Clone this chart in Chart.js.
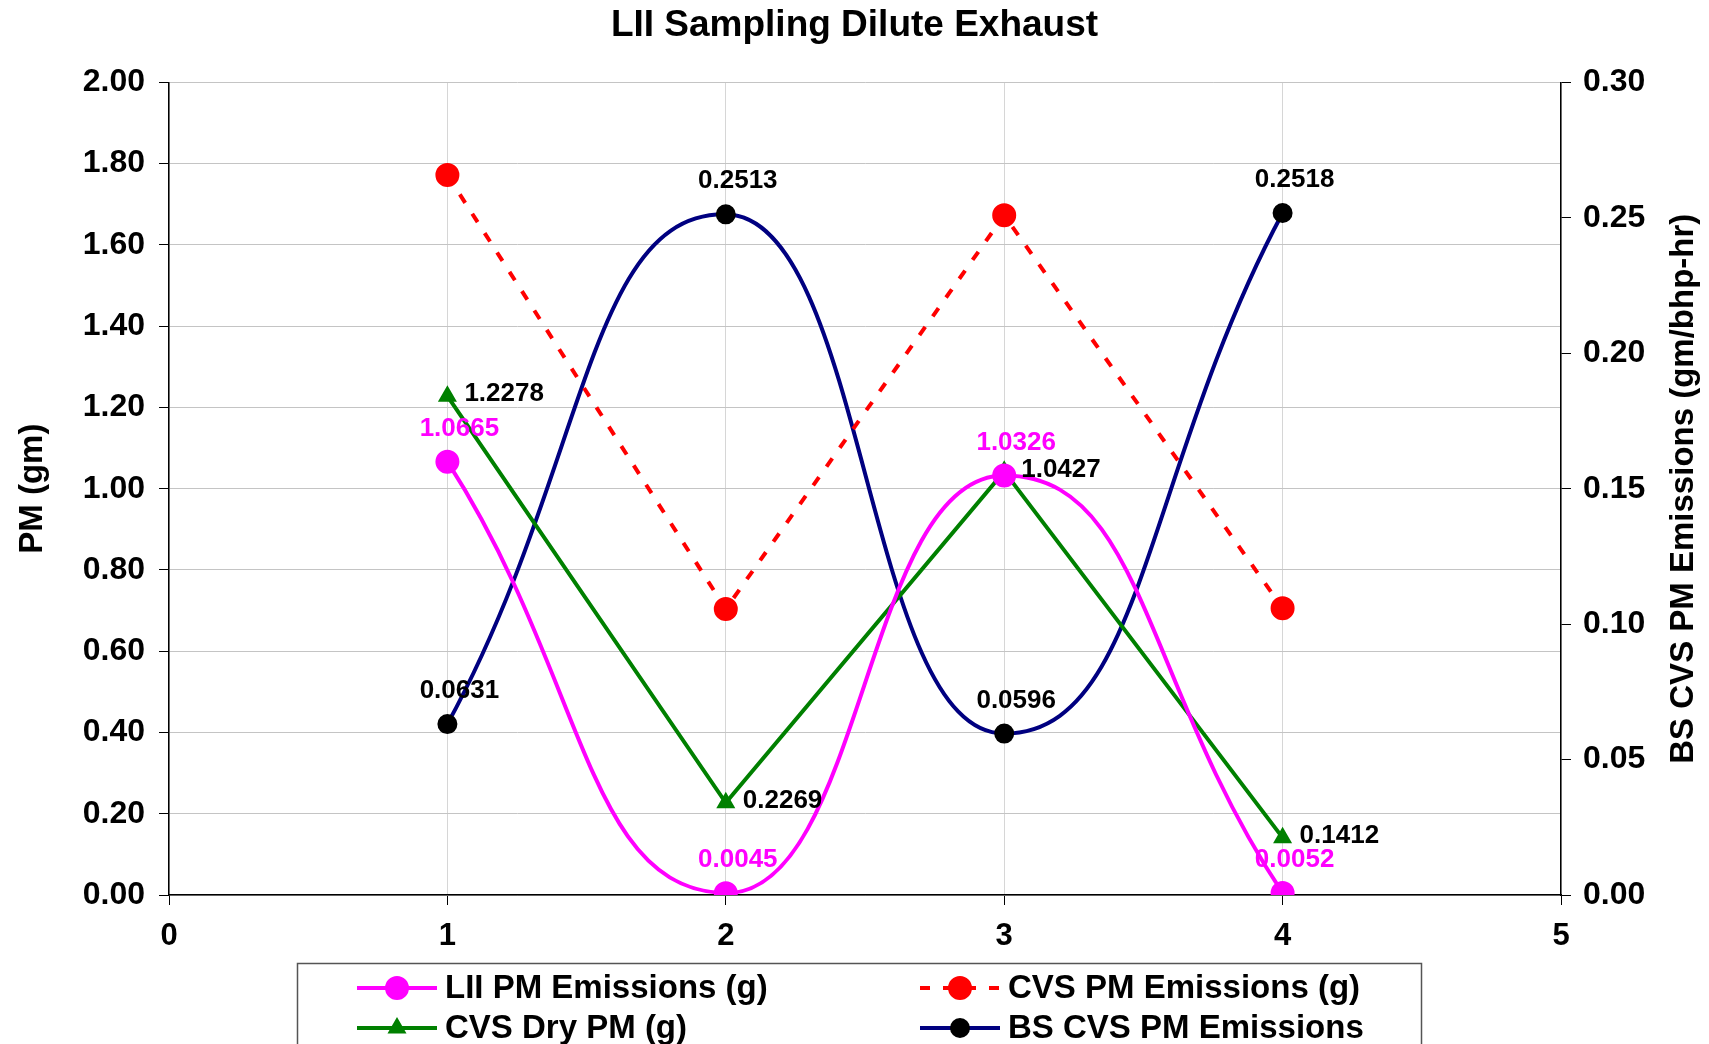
<!DOCTYPE html>
<html>
<head>
<meta charset="utf-8">
<title>LII Sampling Dilute Exhaust</title>
<script src="https://cdn.jsdelivr.net/npm/chart.js@4.4.1/dist/chart.umd.min.js"></script>
<style>
  html, body { margin: 0; padding: 0; background: #fff; }
  #wrap { width: 1709px; height: 1044px; overflow: hidden; }
</style>
</head>
<body>
<div id="wrap"><canvas id="chart" width="1709" height="1044"></canvas></div>
<script>
// test points and measured values
const testPoints = [1, 2, 3, 4];
const liiPm = [1.0665, 0.0045, 1.0326, 0.0052];      // g
const cvsPm = [1.772, 0.704, 1.673, 0.706];          // g (no labels in source)
const cvsDryPm = [1.2278, 0.2269, 1.0427, 0.1412];   // g
const bsCvsPm = [0.0631, 0.2513, 0.0596, 0.2518];    // gm/bhp-hr, right axis

const xTicks = [0, 1, 2, 3, 4, 5];
const leftTicks = [0, 0.2, 0.4, 0.6, 0.8, 1.0, 1.2, 1.4, 1.6, 1.8, 2.0];
const rightTicks = [0, 0.05, 0.10, 0.15, 0.20, 0.25, 0.30];

const rightTitle = 'BS CVS PM Emissions (gm/bhp-hr)';

const FONT = "'Liberation Sans', Arial, sans-serif";

function toPoints(ys) {
    return testPoints.map((x, i) => ({ x: x, y: ys[i] }));
}

// how each series' value labels are placed (style only)
const labelStyles = [
    { color: '#ff00ff', align: 'center', dx: 12, dy: -33 },
    null,
    { color: '#000000', align: 'left', dx: 17, dy: -2 },
    { color: '#000000', align: 'center', dx: 12, dy: -33 }
];

const valueLabels = {
    id: 'valueLabels',
    afterDatasetsDraw(chart) {
        const ctx = chart.ctx;
        ctx.save();
        ctx.font = 'bold 26px ' + FONT;
        ctx.textBaseline = 'middle';
        chart.data.datasets.forEach((ds, di) => {
            const st = labelStyles[di];
            if (!st) return;
            const meta = chart.getDatasetMeta(di);
            meta.data.forEach((pt, i) => {
                ctx.fillStyle = st.color;
                ctx.textAlign = st.align;
                ctx.fillText(ds.data[i].y.toFixed(4), pt.x + st.dx, pt.y + st.dy);
            });
        });
        ctx.restore();
    }
};

// right axis title reads bottom-to-top, like the left one
const rightAxisTitle = {
    id: 'rightAxisTitle',
    afterDraw(chart) {
        const ctx = chart.ctx;
        const s = chart.scales.y1;
        ctx.save();
        ctx.translate(s.right - 25, (s.top + s.bottom) / 2);
        ctx.rotate(-Math.PI / 2);
        ctx.font = 'bold 33px ' + FONT;
        ctx.fillStyle = '#000';
        ctx.textAlign = 'center';
        ctx.textBaseline = 'middle';
        ctx.fillText(rightTitle, 0, 0);
        ctx.restore();
    }
};

// boxed two-column legend under the axis
const boxedLegend = {
    id: 'boxedLegend',
    afterDraw(chart) {
        const ctx = chart.ctx;
        const box = { left: 297, top: 963, right: 1421 };
        const colX = [357, 920];
        const rowY = [988, 1028];
        ctx.save();
        ctx.strokeStyle = '#555';
        ctx.lineWidth = 1.5;
        ctx.strokeRect(box.left + 0.5, box.top + 0.5, box.right - box.left, 200);
        ctx.font = 'bold 33px ' + FONT;
        ctx.textBaseline = 'middle';
        ctx.textAlign = 'left';
        chart.data.datasets.forEach((ds, i) => {
            const x0 = colX[i % 2];
            const y = rowY[Math.floor(i / 2)];
            ctx.save();
            ctx.strokeStyle = ds.borderColor;
            ctx.lineWidth = ds.borderWidth;
            ctx.setLineDash(ds.borderDash || []);
            ctx.beginPath();
            ctx.moveTo(x0, y);
            ctx.lineTo(x0 + 80, y);
            ctx.stroke();
            ctx.setLineDash([]);
            ctx.fillStyle = ds.pointBackgroundColor;
            ctx.strokeStyle = ds.pointBorderColor;
            Chart.helpers.drawPoint(ctx, {
                pointStyle: ds.pointStyle,
                radius: ds.pointRadius,
                borderWidth: 1,
                rotation: 0
            }, x0 + 40, y);
            ctx.restore();
            ctx.fillStyle = '#000';
            ctx.fillText(ds.label, x0 + 88, y + 1);
        });
        ctx.restore();
    }
};

new Chart(document.getElementById('chart'), {
    type: 'line',
    data: {
        datasets: [
            {
                label: 'LII PM Emissions (g)',
                data: toPoints(liiPm),
                yAxisID: 'y',
                borderColor: '#ff00ff',
                borderWidth: 4,
                pointStyle: 'circle',
                pointRadius: 10,
                pointBackgroundColor: '#ff00ff',
                pointBorderColor: '#ff00ff',
                tension: 0.5
            },
            {
                label: 'CVS PM Emissions (g)',
                data: toPoints(cvsPm),
                yAxisID: 'y',
                borderColor: '#ff0000',
                borderWidth: 4,
                borderDash: [10, 13],
                pointStyle: 'circle',
                pointRadius: 10,
                pointBackgroundColor: '#ff0000',
                pointBorderColor: '#ff0000',
                tension: 0
            },
            {
                label: 'CVS Dry PM (g)',
                data: toPoints(cvsDryPm),
                yAxisID: 'y',
                borderColor: '#008000',
                borderWidth: 4,
                pointStyle: 'triangle',
                pointRadius: 7,
                pointBackgroundColor: '#008000',
                pointBorderColor: '#008000',
                tension: 0
            },
            {
                label: 'BS CVS PM Emissions',
                data: toPoints(bsCvsPm),
                yAxisID: 'y1',
                borderColor: '#000080',
                borderWidth: 4,
                pointStyle: 'circle',
                pointRadius: 8,
                pointBackgroundColor: '#000000',
                pointBorderColor: '#000000',
                tension: 0.5
            }
        ]
    },
    options: {
        responsive: false,
        devicePixelRatio: 1,
        animation: false,
        layout: { padding: { left: 0, right: 0, top: 0, bottom: 0 } },
        plugins: {
            legend: { display: false },
            tooltip: { enabled: false },
            title: {
                display: true,
                text: 'LII Sampling Dilute Exhaust',
                color: '#000',
                font: { family: FONT, size: 37, weight: 'bold' },
                padding: { top: 4, bottom: 34 }
            }
        },
        scales: {
            x: {
                type: 'linear',
                min: 0, max: 5,
                afterBuildTicks: (s) => { s.ticks = xTicks.map(v => ({ value: v })); },
                afterFit: (s) => { s.height = 1044 - 895; },
                ticks: {
                    color: '#000',
                    padding: 13,
                    font: { family: FONT, size: 31, weight: 'bold' }
                },
                grid: { color: '#d6d6d6', tickColor: '#000', tickLength: 10, lineWidth: 1 },
                border: { color: '#000', width: 1.5 }
            },
            y: {
                type: 'linear',
                position: 'left',
                min: 0, max: 2,
                afterBuildTicks: (s) => { s.ticks = leftTicks.map(v => ({ value: v })); },
                afterFit: (s) => { s.width = 169; },
                ticks: {
                    color: '#000',
                    padding: 14,
                    callback: (v) => v.toFixed(2),
                    font: { family: FONT, size: 32, weight: 'bold' }
                },
                title: {
                    display: true,
                    text: 'PM (gm)',
                    color: '#000',
                    padding: { top: 13, bottom: 0 },
                    font: { family: FONT, size: 33, weight: 'bold' }
                },
                grid: { color: '#c4c4c4', tickColor: '#000', tickLength: 10, lineWidth: 1 },
                border: { color: '#000', width: 1.5 }
            },
            y1: {
                type: 'linear',
                position: 'right',
                min: 0, max: 0.3,
                afterBuildTicks: (s) => { s.ticks = rightTicks.map(v => ({ value: v })); },
                afterFit: (s) => { s.width = 1709 - 1561; },
                ticks: {
                    color: '#000',
                    padding: 12,
                    callback: (v) => v.toFixed(2),
                    font: { family: FONT, size: 32, weight: 'bold' }
                },
                grid: { drawOnChartArea: false, tickColor: '#000', tickLength: 10 },
                border: { color: '#000', width: 1.5 }
            }
        }
    },
    plugins: [valueLabels, rightAxisTitle, boxedLegend]
});
</script>
</body>
</html>
